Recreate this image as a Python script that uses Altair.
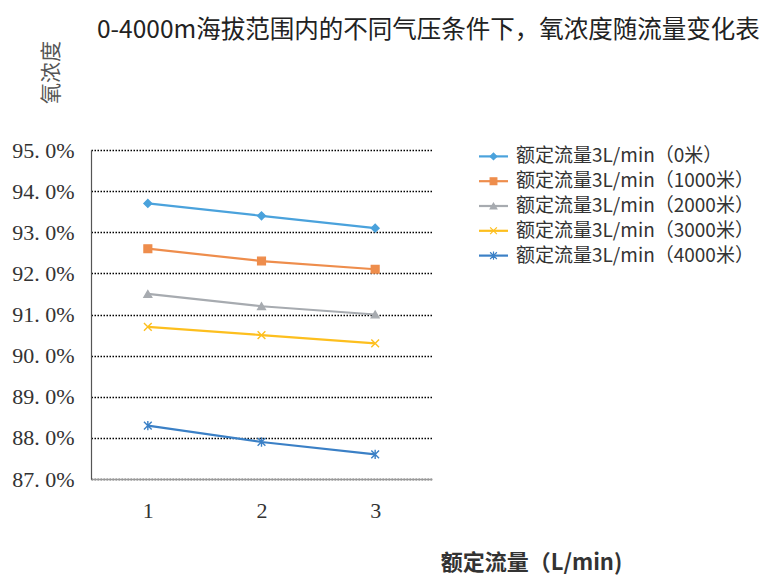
import altair as alt
import pandas as pd

flow = [1, 2, 3]
series = [
    "额定流量3L/min（0米）",
    "额定流量3L/min（1000米）",
    "额定流量3L/min（2000米）",
    "额定流量3L/min（3000米）",
    "额定流量3L/min（4000米）",
]
v_0m = [93.7, 93.4, 93.1]
v_1000m = [92.6, 92.3, 92.1]
v_2000m = [91.5, 91.2, 91.0]
v_3000m = [90.7, 90.5, 90.3]
v_4000m = [88.3, 87.9, 87.6]
y_ticks = [87, 88, 89, 90, 91, 92, 93, 94, 95]

colors = ["#4AA2DC", "#EE8D4C", "#A7ABB0", "#FDBF1E", "#3B80C6"]
shapes = [
    "diamond",
    "square",
    "triangle-up",
    "M-1,-1L1,1M-1,1L1,-1",
    "M-1,-1L1,1M-1,1L1,-1M0,-1.2L0,1.2",
]

rows = []
for name, vals in zip(series, [v_0m, v_1000m, v_2000m, v_3000m, v_4000m]):
    for f, v in zip(flow, vals):
        rows.append({"flow": f, "value": v, "series": name})
df = pd.DataFrame(rows)
leg = pd.DataFrame({"series": series})

CJK = "Noto Sans CJK SC"
SERIF = "Liberation Serif"

color_scale = alt.Scale(domain=series, range=colors)
shape_scale = alt.Scale(domain=series, range=shapes)

x_enc = alt.X(
    "flow:O",
    scale=alt.Scale(type="point", padding=0.5),
    axis=alt.Axis(
        labelAngle=0, labelFont=SERIF, labelFontSize=22, labelColor="#333333",
        labelPadding=21, ticks=False, grid=False,
        domainColor="#9a9a9a", domainWidth=1.5,
        title="额定流量（L/min)", titleFont=CJK, titleFontSize=22,
        titleFontWeight="bold", titleColor="#333333",
        titleX=440, titleY=83, titleAlign="center", titleBaseline="middle",
    ),
)
y_enc = alt.Y(
    "value:Q",
    scale=alt.Scale(domain=[87, 95], nice=False, zero=False),
    axis=alt.Axis(
        values=y_ticks,
        labelExpr="replace(format(datum.value, '.1f'), '.', '. ') + '%'",
        labelFont=SERIF, labelFontSize=22, labelColor="#333333",
        labelPadding=17, ticks=False,
        grid=True, gridColor="#000000", gridDash=[1.5, 1.5], gridWidth=1.3,
        domainColor="#555555", domainWidth=1.2,
        title="氧浓度", titleFont=CJK, titleFontSize=21, titleFontWeight="normal",
        titleColor="#555555", titleAngle=-90, titleX=-40, titleY=-78,
        titleAlign="center", titleBaseline="middle",
    ),
)

base = alt.Chart(df)
lines = base.mark_line(strokeWidth=2.2).encode(
    x=x_enc, y=y_enc,
    color=alt.Color("series:N", scale=color_scale, legend=None),
    detail="series:N",
)
points = base.mark_point(filled=True, size=60, opacity=1, strokeWidth=1.4).encode(
    x=x_enc, y=y_enc,
    color=alt.Color("series:N", scale=color_scale, legend=None),
    stroke=alt.Stroke("series:N", scale=color_scale, legend=None),
    shape=alt.Shape("series:N", scale=shape_scale, legend=None),
)
main = alt.layer(lines, points)

leg_y = alt.Y("series:N", scale=alt.Scale(domain=series, range=[-6, 118], padding=0), axis=None)
leg_base = alt.Chart(leg)
leg_rule = leg_base.mark_rule(strokeWidth=2.2).encode(
    y=leg_y, x=alt.value(388), x2=alt.value(417),
    color=alt.Color("series:N", scale=color_scale, legend=None),
)
leg_pt = leg_base.mark_point(filled=True, size=45, opacity=1, strokeWidth=1.2).encode(
    y=leg_y, x=alt.value(402.5),
    color=alt.Color("series:N", scale=color_scale, legend=None),
    stroke=alt.Stroke("series:N", scale=color_scale, legend=None),
    shape=alt.Shape("series:N", scale=shape_scale, legend=None),
)
leg_text = leg_base.mark_text(
    align="left", baseline="middle", font=CJK, fontSize=19, color="#333333"
).encode(y=leg_y, x=alt.value(425), text="series:N")
legend_layer = alt.layer(leg_rule, leg_pt, leg_text)

chart = (
    alt.layer(main, legend_layer)
    .resolve_scale(y="independent")
    .properties(
        width=341,
        height=329,
        padding={"left": 3, "top": 9, "right": 4, "bottom": 5},
        title=alt.TitleParams(
            "0-4000m海拔范围内的不同气压条件下，氧浓度随流量变化表",
            font=CJK, fontSize=24.5, fontWeight="normal", color="#222222",
            anchor="start", frame="group", dx=6, offset=-2.5,
        ),
    )
    .configure_view(stroke=None)
)

chart.save("out.html", embed_options={"renderer": "svg", "actions": False})
